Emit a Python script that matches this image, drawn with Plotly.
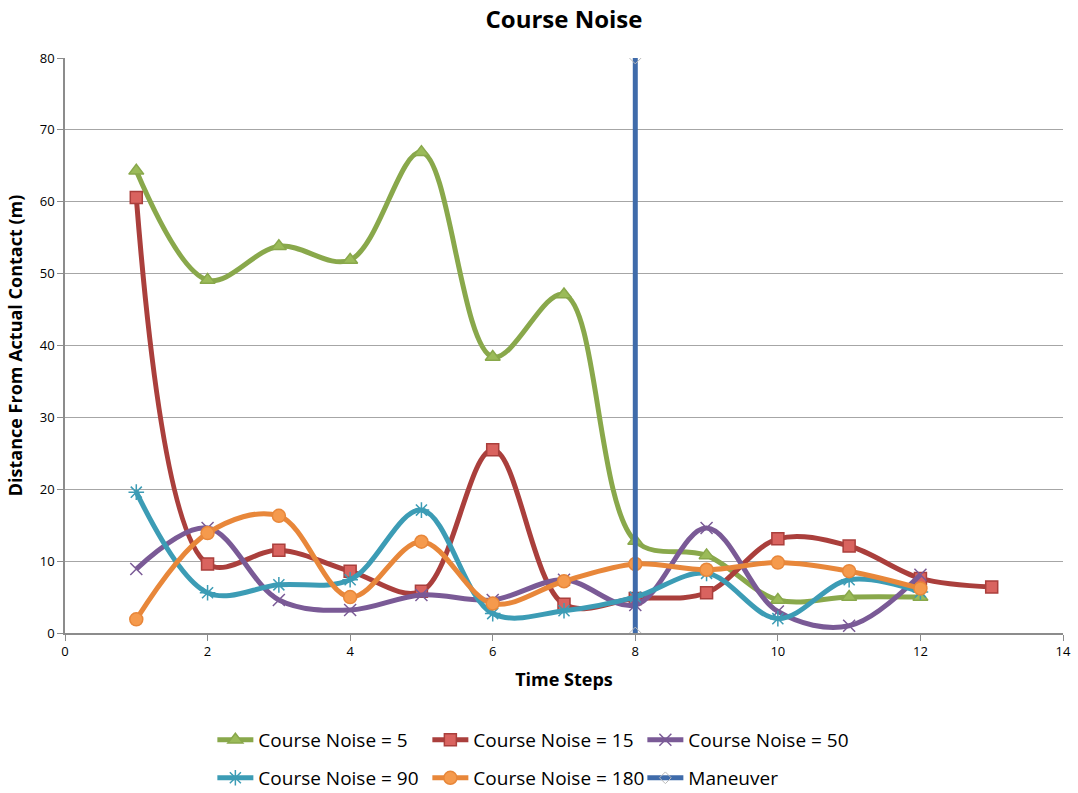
import plotly.graph_objects as go

# Time steps and distance from actual contact (m) for each course-noise setting
steps = [1, 2, 3, 4, 5, 6, 7, 8, 9, 10, 11, 12]
steps_15 = [1, 2, 3, 4, 5, 6, 7, 8, 9, 10, 11, 12, 13]

noise_5 = [64.3, 49.1, 53.8, 51.9, 66.9, 38.4, 47.1, 12.8, 10.8, 4.6, 5.0, 5.0]
noise_15 = [60.6, 9.6, 11.5, 8.6, 5.8, 25.5, 4.0, 4.8, 5.6, 13.1, 12.1, 7.6, 6.4]
noise_50 = [8.9, 14.6, 4.6, 3.2, 5.3, 4.6, 7.4, 3.9, 14.6, 3.0, 1.0, 8.1]
noise_90 = [19.6, 5.6, 6.7, 7.4, 17.1, 2.7, 3.1, 5.0, 8.3, 2.0, 7.4, 5.7]
noise_180 = [1.9, 13.9, 16.3, 5.0, 12.7, 4.1, 7.2, 9.6, 8.8, 9.8, 8.6, 6.2]

maneuver_x = [8, 8]
maneuver_y = [0, 80]

FONT = "Open Sans"

series = [
    ("Course Noise = 5", steps, noise_5, "#89A84B", "#9BBB59", "triangle-up", 13, "legend"),
    ("Course Noise = 15", steps_15, noise_15, "#AA3F3C", "#D9635F", "square", 12, "legend"),
    ("Course Noise = 50", steps, noise_50, "#7A5A96", "#7A5A96", "x-thin", 12, "legend"),
    ("Course Noise = 90", steps, noise_90, "#3C9CB5", "#3C9CB5", "asterisk", 13, "legend2"),
    ("Course Noise = 180", steps, noise_180, "#E8873A", "#F59A4D", "circle", 13, "legend2"),
]

fig = go.Figure()
for name, xs, ys, line_c, fill_c, sym, size, leg in series:
    fig.add_trace(go.Scatter(
        x=xs, y=ys, name=name, mode="lines+markers",
        line=dict(color=line_c, width=5, shape="spline", smoothing=1.0),
        marker=dict(symbol=sym, size=size, color=fill_c,
                    line=dict(color=line_c, width=1.5)),
        legend=leg,
    ))

fig.add_trace(go.Scatter(
    x=maneuver_x, y=maneuver_y, name="Maneuver", mode="lines+markers",
    line=dict(color="#3F6BAA", width=5),
    marker=dict(symbol="diamond-open", size=9, color="#BBBBBB",
                line=dict(color="#BBBBBB", width=1)),
    legend="legend2",
))

axis_line = "#8C8C8C"
legend_common = dict(
    orientation="h", xref="container", yref="container",
    x=0.197, xanchor="left", yanchor="middle",
    font=dict(size=19, family=FONT), entrywidth=164, entrywidthmode="pixels",
    itemwidth=36, tracegroupgap=0, bgcolor="rgba(0,0,0,0)",
)
fig.update_layout(
    width=1078, height=793,
    margin=dict(l=65, r=15, t=58, b=160, autoexpand=False),
    paper_bgcolor="white", plot_bgcolor="white",
    font=dict(family=FONT, color="black"),
    title=dict(text="<b>Course Noise</b>", x=0.5, xanchor="center",
               xref="paper", y=0.975, yanchor="middle",
               font=dict(size=24, family=FONT)),
    xaxis=dict(
        range=[0, 14], dtick=2, tick0=0, showgrid=False,
        showline=True, linecolor=axis_line, linewidth=1.5,
        ticks="outside", ticklen=6, tickcolor=axis_line,
        tickfont=dict(size=13, family=FONT), automargin=False,
        title=dict(text="<b>Time Steps</b>", font=dict(size=18, family=FONT), standoff=14),
        zeroline=False,
    ),
    yaxis=dict(
        range=[0, 80], dtick=10, tick0=0, showgrid=True,
        gridcolor="#A6A6A6", gridwidth=1.2,
        showline=True, linecolor=axis_line, linewidth=1.5,
        ticks="outside", ticklen=6, tickcolor=axis_line,
        tickfont=dict(size=13, family=FONT), automargin=False,
        title=dict(text="<b>Distance From Actual Contact (m)</b>",
                   font=dict(size=18, family=FONT), standoff=12),
        zeroline=False,
    ),
    legend=dict(legend_common, y=0.067),
    legend2=dict(legend_common, y=0.019),
)

fig.write_html("out.html")
